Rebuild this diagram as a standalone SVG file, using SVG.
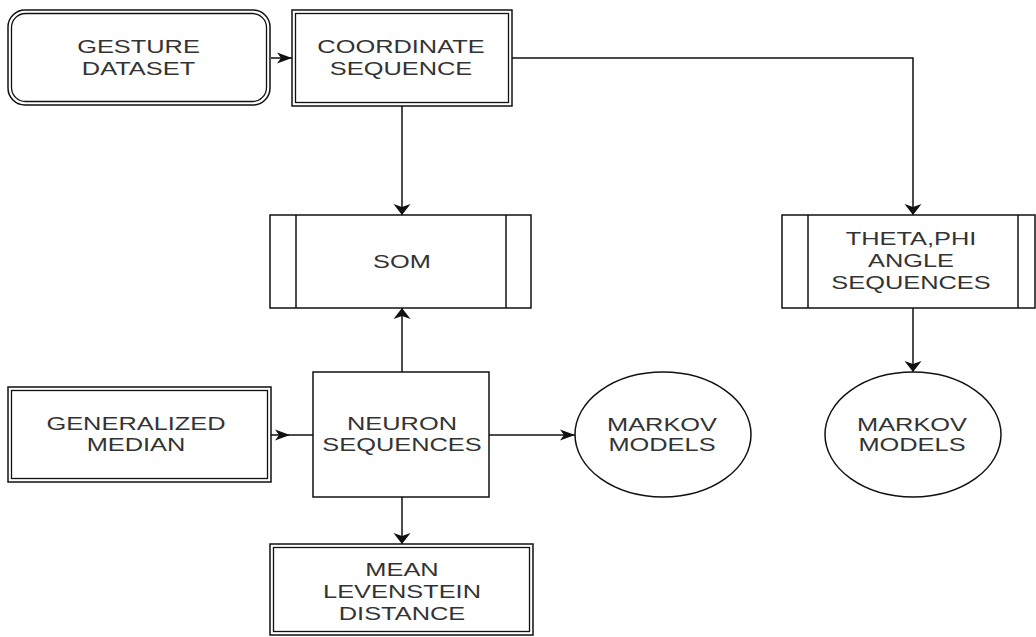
<svg xmlns="http://www.w3.org/2000/svg" width="1036" height="637" viewBox="0 0 1036 637">
  <style>
    .box { fill: #fff; stroke: #111; stroke-width: 1.5; }
    .in { fill: none; stroke: #111; stroke-width: 1.3; }
    .edge { fill: none; stroke: #111; stroke-width: 1.5; }
    .lbl { font-family: "Liberation Sans", Arial, sans-serif; font-size: 18px; fill: #333; text-anchor: middle; }
  </style>
  <defs>
    <!-- classic notched arrowheads; horizontal ones are longer, vertical ones wider -->
    <marker id="arrH" markerUnits="userSpaceOnUse" markerWidth="16" markerHeight="12" refX="15" refY="5.5" orient="auto" overflow="visible">
      <path d="M0,0 L15,5.5 L0,11 L4,5.5 Z" fill="#111"/>
    </marker>
    <marker id="arrV" markerUnits="userSpaceOnUse" markerWidth="12" markerHeight="18" refX="11" refY="8.5" orient="auto" overflow="visible">
      <path d="M0,0 L11,8.5 L0,17 L3,8.5 Z" fill="#111"/>
    </marker>
  </defs>
  <rect width="1036" height="637" fill="#fff"/>

  <g id="connectors">
    <path class="edge" d="M271,58 H292" marker-end="url(#arrH)"/>
    <path class="edge" d="M512,58 H913 V215" marker-end="url(#arrV)"/>
    <path class="edge" d="M402,106 V215" marker-end="url(#arrV)"/>
    <path class="edge" d="M402,372 V308" marker-end="url(#arrV)"/>
    <path class="edge" d="M271,435 H290" marker-end="url(#arrH)"/>
    <path class="edge" d="M290,435 H313"/>
    <path class="edge" d="M489,435 H575" marker-end="url(#arrH)"/>
    <path class="edge" d="M913,308 V372" marker-end="url(#arrV)"/>
    <path class="edge" d="M402,497 V544" marker-end="url(#arrV)"/>
  </g>

  <g id="gesture-dataset">
    <rect class="box" x="8" y="10" width="262" height="95" rx="17" ry="17"/>
    <rect class="in" x="11.5" y="13.5" width="255" height="88" rx="14" ry="14"/>
    <text class="lbl" transform="translate(138.5,0) scale(1.41,1)"><tspan x="0" y="53.5">GESTURE</tspan><tspan x="0" y="75.5">DATASET</tspan></text>
  </g>

  <g id="coordinate-sequence">
    <rect class="box" x="292" y="10" width="220" height="96"/>
    <rect class="in" x="295.5" y="13.5" width="213" height="89"/>
    <text class="lbl" transform="translate(401,0) scale(1.41,1)"><tspan x="0" y="53.5">COORDINATE</tspan><tspan x="0" y="75.5">SEQUENCE</tspan></text>
  </g>

  <g id="som">
    <rect class="box" x="270" y="215" width="261" height="93"/>
    <line class="edge" x1="296" y1="215" x2="296" y2="308"/>
    <line class="edge" x1="506" y1="215" x2="506" y2="308"/>
    <text class="lbl" transform="translate(402,0) scale(1.41,1)"><tspan x="0" y="268.5">SOM</tspan></text>
  </g>

  <g id="theta-phi">
    <rect class="box" x="782" y="215" width="253" height="93"/>
    <line class="edge" x1="808" y1="215" x2="808" y2="308"/>
    <line class="edge" x1="1018" y1="215" x2="1018" y2="308"/>
    <text class="lbl" transform="translate(911,0) scale(1.41,1)"><tspan x="0" y="245.5">THETA,PHI</tspan><tspan x="0" y="267.5">ANGLE</tspan><tspan x="0" y="289.5">SEQUENCES</tspan></text>
  </g>

  <g id="generalized-median">
    <rect class="box" x="8" y="387" width="263" height="95"/>
    <rect class="in" x="11.5" y="390.5" width="256" height="88"/>
    <text class="lbl" transform="translate(136,0) scale(1.41,1)"><tspan x="0" y="430.5">GENERALIZED</tspan><tspan x="0" y="451.5">MEDIAN</tspan></text>
  </g>

  <g id="neuron-sequences">
    <rect class="box" x="313" y="372" width="176" height="125"/>
    <text class="lbl" transform="translate(402,0) scale(1.41,1)"><tspan x="0" y="430.5">NEURON</tspan><tspan x="0" y="451.5">SEQUENCES</tspan></text>
  </g>

  <g id="markov-models-1">
    <ellipse class="box" cx="663" cy="434.5" rx="88" ry="62.5"/>
    <text class="lbl" transform="translate(662,0) scale(1.41,1)"><tspan x="0" y="431">MARKOV</tspan><tspan x="0" y="451.5">MODELS</tspan></text>
  </g>

  <g id="markov-models-2">
    <ellipse class="box" cx="913" cy="434.5" rx="88" ry="62.5"/>
    <text class="lbl" transform="translate(912,0) scale(1.41,1)"><tspan x="0" y="431">MARKOV</tspan><tspan x="0" y="451.5">MODELS</tspan></text>
  </g>

  <g id="mean-levenstein">
    <rect class="box" x="270" y="544" width="263" height="91"/>
    <rect class="in" x="273.5" y="547.5" width="256" height="84"/>
    <text class="lbl" transform="translate(402,0) scale(1.41,1)"><tspan x="0" y="576">MEAN</tspan><tspan x="0" y="598">LEVENSTEIN</tspan><tspan x="0" y="620">DISTANCE</tspan></text>
  </g>
</svg>
